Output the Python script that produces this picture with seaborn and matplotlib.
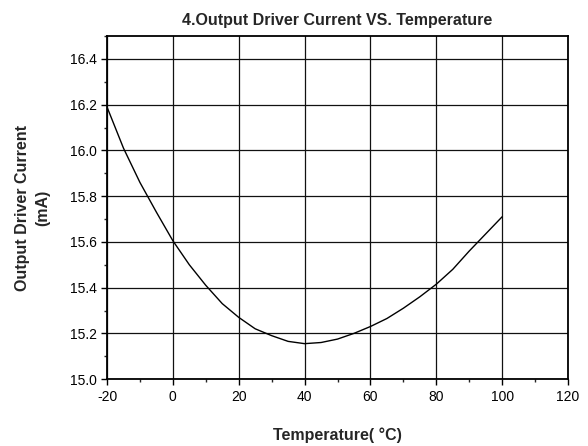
import numpy as np
import pandas as pd
import seaborn as sns
import matplotlib
matplotlib.use("Agg")
import matplotlib.pyplot as plt
from matplotlib.ticker import MultipleLocator

# ------------------------------------------------------------
# Données
# ------------------------------------------------------------
temperature = [-20, -15, -10, -5, 0, 5, 10, 15, 20, 25, 30, 35, 40, 45, 50,
               55, 60, 65, 70, 75, 80, 85, 90, 95, 100]
current_ma = [16.19, 16.01, 15.86, 15.73, 15.605, 15.50, 15.41, 15.33, 15.27,
              15.22, 15.19, 15.165, 15.155, 15.16, 15.175, 15.20, 15.23,
              15.265, 15.31, 15.36, 15.415, 15.48, 15.56, 15.635, 15.71]

x_ticks = [-20, 0, 20, 40, 60, 80, 100, 120]
y_ticks = [15.0, 15.2, 15.4, 15.6, 15.8, 16.0, 16.2, 16.4]

df = pd.DataFrame({"Temperature": temperature, "Current": current_ma})

sns.set_style("ticks")
plt.rcParams["font.family"] = ["Liberation Sans", "DejaVu Sans"]
plt.rcParams["axes.unicode_minus"] = False

fig = plt.figure(figsize=(5.88, 4.46), dpi=100)
ax = fig.add_axes([0.182, 0.150, 0.784, 0.769])

sns.lineplot(data=df, x="Temperature", y="Current", ax=ax,
             color="black", linewidth=1.0)

ax.set_xlim(-20, 120)
ax.set_ylim(15.0, 16.5)
ax.set_xticks(x_ticks)
ax.set_xticklabels([str(v) for v in x_ticks])
ax.set_yticks(y_ticks)
ax.set_yticklabels([f"{v:.1f}" for v in y_ticks])
ax.xaxis.set_minor_locator(MultipleLocator(10))
ax.yaxis.set_minor_locator(MultipleLocator(0.1))
ax.tick_params(axis="both", which="major", direction="out", length=4,
               width=1, labelsize=10, colors="black")
ax.tick_params(axis="both", which="minor", direction="out", length=2.5, width=1)

ax.grid(True, which="major", color="#111111", linewidth=0.9)
for s in ax.spines.values():
    s.set_visible(True)
    s.set_color("black")
    s.set_linewidth(1.3)

ax.set_title("4.Output Driver Current VS. Temperature", fontsize=11.5,
             fontweight="bold", pad=8)
ax.set_xlabel("Temperature( °C)", fontsize=11.5, fontweight="bold", labelpad=17)
ax.set_ylabel("Output Driver Current\n(mA)", fontsize=11.5, fontweight="bold",
              labelpad=14, linespacing=1.4)

fig.savefig("out.png", dpi=100)
